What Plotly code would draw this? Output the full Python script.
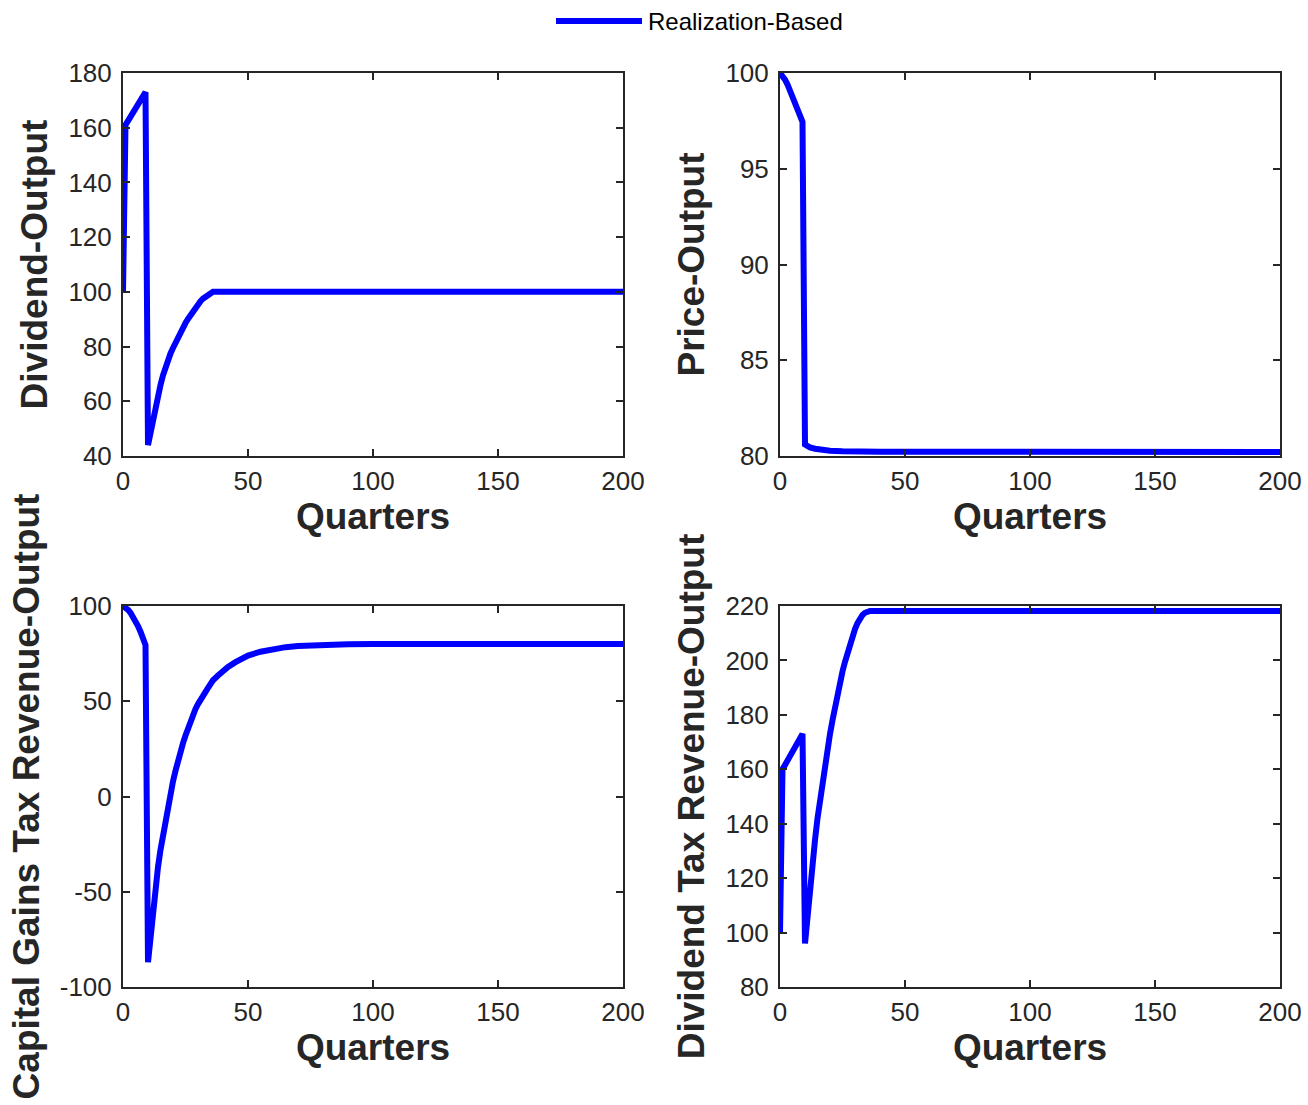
import plotly.graph_objects as go

# ---- data (Quarters vs. level, steady state = 100) ----
div_q = list(range(0, 37)) + [200]
div_v = [100, 161, 162.5, 164, 165.5, 167, 168.5, 170, 171.5, 173,
         44, 49, 54, 58.5, 62.5, 66, 69.5, 72.5, 75, 77.5,
         79.5, 81.5, 83.5, 85.3, 87, 88.6, 90.1, 91.6, 93, 94.3,
         95.5, 96.6, 97.5, 98.3, 99, 99.6, 100, 100]

price_q = [0, 1, 2, 3, 4, 5, 6, 7, 8, 9, 10, 11, 12, 14, 16, 20, 25, 30, 40, 200]
price_v = [100, 99.85, 99.65, 99.4, 99.1, 98.8, 98.5, 98.2, 97.85, 97.45, 80.6, 80.5,
           80.45, 80.38, 80.33, 80.28, 80.25, 80.23, 80.22, 80.21]

cg_q = list(range(0, 37)) + [38, 40, 42, 45, 48, 50, 55, 60, 65, 70, 80, 90, 100, 200]
cg_v = [100, 99.2, 98, 96.5, 94.5, 92, 89.5, 86.5, 83, 79.5,
        -87, -73, -60, -48, -37, -28, -20, -12, -5, 2,
        8, 13.5, 19, 23.5, 28, 32, 36, 39.5, 43, 46,
        48.5, 51, 53, 55, 57, 59, 61,
        63.5, 66, 68, 70.5, 72.7, 74, 76, 77.5, 78.4, 79, 79.6, 79.9, 80, 80]

dtax_q = list(range(0, 37)) + [200]
dtax_v = [100, 160, 161.6, 163.2, 164.8, 166.4, 168, 169.6, 171.2, 173,
          96, 107, 117, 126, 134, 142, 149, 155.5, 161.5, 167.5,
          173, 178, 183, 187.5, 192, 196, 199.5, 203, 206, 209,
          211.5, 213.7, 215.5, 216.7, 217.5, 218, 218.2, 218.2]

x_ticks = [0, 50, 100, 150, 200]
panels = [
    dict(q=div_q, v=div_v, title="Dividend-Output", rng=[40, 180], ticks=[40, 60, 80, 100, 120, 140, 160, 180]),
    dict(q=price_q, v=price_v, title="Price-Output", rng=[80, 100], ticks=[80, 85, 90, 95, 100]),
    dict(q=cg_q, v=cg_v, title="Capital Gains Tax Revenue-Output", rng=[-100, 100], ticks=[-100, -50, 0, 50, 100]),
    dict(q=dtax_q, v=dtax_v, title="Dividend Tax Revenue-Output", rng=[80, 220], ticks=[80, 100, 120, 140, 160, 180, 200, 220]),
]
series_name = "Realization-Based"

W, H = 1308, 1105
xdoms = [[123 / W, 623 / W], [780 / W, 1280 / W]]
ydoms = [[1 - 456 / H, 1 - 73 / H], [1 - 987 / H, 1 - 606 / H]]

FONT = "Liberation Sans, Arial, Helvetica, sans-serif"
AX = "#262626"
BLUE = "#0000FF"

fig = go.Figure()
layout = dict(
    width=W, height=H, margin=dict(l=0, r=0, t=0, b=0, autoexpand=False),
    paper_bgcolor="white", plot_bgcolor="white",
    font=dict(family=FONT, color=AX, size=26),
    showlegend=False,
)

for i, p in enumerate(panels):
    n = "" if i == 0 else str(i + 1)
    row, col = divmod(i, 2)
    fig.add_trace(go.Scatter(
        x=p["q"], y=p["v"], mode="lines", name=series_name,
        line=dict(color=BLUE, width=6), xaxis="x" + n, yaxis="y" + n,
        showlegend=False,
    ))
    common = dict(
        showline=True, linecolor=AX, linewidth=2, mirror="allticks",
        ticks="inside", ticklen=7, tickwidth=2, tickcolor=AX,
        showgrid=False, zeroline=False, automargin=False,
        tickfont=dict(family=FONT, size=26, color=AX),
    )
    layout["xaxis" + n] = dict(
        common, domain=xdoms[col], range=[0, 200], tickvals=x_ticks,
        ticktext=[str(t) for t in x_ticks],
        anchor="y" + n, ticklabelstandoff=1,
        title=dict(text="<b>Quarters</b>", font=dict(family=FONT, size=37, color=AX), standoff=7),
    )
    layout["yaxis" + n] = dict(
        common, domain=ydoms[row], range=p["rng"], tickvals=p["ticks"],
        ticktext=[str(t) for t in p["ticks"]],
        anchor="x" + n, ticklabelstandoff=4,
        title=dict(text="<b>" + p["title"] + "</b>", font=dict(family=FONT, size=37, color=AX), standoff=9),
    )

fig.update_layout(**layout)

# legend drawn at the top centre
fig.add_shape(type="line", xref="paper", yref="paper",
              x0=556 / W, x1=642 / W, y0=1 - 21 / H, y1=1 - 21 / H,
              line=dict(color=BLUE, width=6))
fig.add_annotation(xref="paper", yref="paper", x=646 / W, y=1 - 21 / H,
                   text=series_name, showarrow=False, xanchor="left", yanchor="middle",
                   font=dict(family=FONT, size=24, color="#000000"))

fig.write_html("out.html")
